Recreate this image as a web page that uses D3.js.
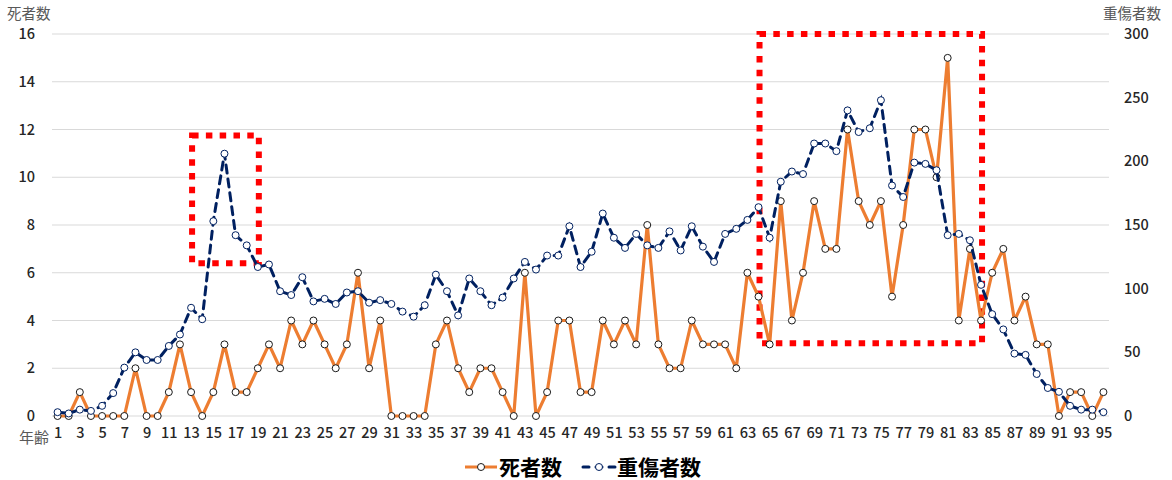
<!DOCTYPE html>
<html>
<head>
<meta charset="utf-8">
<script src="https://cdn.jsdelivr.net/npm/d3@7"></script>
<style>
  body { margin: 0; background: #fff; }
  svg text { font-family: "Noto Sans CJK JP", "Noto Sans", sans-serif; }
</style>
</head>
<body>
<div id="chart"></div>
<script>
'use strict';

// ages 1..95
var ages = d3.range(1, 96);

// 死者数 (left axis)
var deaths = [
  0, 0, 1, 0, 0, 0, 0, 2, 0, 0,
  1, 3, 1, 0, 1, 3, 1, 1, 2, 3,
  2, 4, 3, 4, 3, 2, 3, 6, 2, 4,
  0, 0, 0, 0, 3, 4, 2, 1, 2, 2,
  1, 0, 6, 0, 1, 4, 4, 1, 1, 4,
  3, 4, 3, 8, 3, 2, 2, 4, 3, 3,
  3, 2, 6, 5, 3, 9, 4, 6, 9, 7,
  7, 12, 9, 8, 9, 5, 8, 12, 12, 10,
  15, 4, 7, 4, 6, 7, 4, 5, 3, 3,
  0, 1, 1, 0, 1
];

// 重傷者数 (right axis)
var injuries = [
  3, 2, 5, 4, 8, 18, 38, 50, 44, 44,
  55, 64, 85, 76, 153, 206, 142, 134, 117, 119,
  98, 95, 109, 90, 92, 88, 97, 98, 89, 91,
  88, 82, 78, 87, 111, 98, 79, 108, 98, 87,
  93, 108, 121, 115, 126, 126, 149, 117, 129, 159,
  140, 132, 143, 134, 132, 145, 130, 149, 133, 121,
  143, 147, 154, 164, 140, 184, 192, 190, 214, 214,
  208, 240, 223, 226, 248, 181, 172, 199, 198, 193,
  142, 143, 138, 103, 80, 68, 49, 48, 33, 22,
  19, 8, 5, 5, 3
];

var leftTicks = [0, 2, 4, 6, 8, 10, 12, 14, 16];
var rightTicks = [0, 50, 100, 150, 200, 250, 300];
var xTickAges = ages.filter(function(a){ return a % 2 === 1; });

// highlighted regions: [age from, age to, deaths low, deaths high]
var boxStart = [13, 64];
var boxEnd = [19, 84];
var boxLow = [6.4, 3.05];
var boxHigh = [11.75, 16];

var seriesNames = ['死者数', '重傷者数'];

var chart = {};
chart.w = 1172;
chart.h = 480;
chart.left = 52;
chart.right = 1109;
chart.top = 34;
chart.bottom = 416;
chart.orange = '#ed7d31';
chart.navy = '#002060';
chart.tickColor = '#262626';

var svg = d3.select('#chart').append('svg')
    .attr('width', chart.w)
    .attr('height', chart.h);

var x = d3.scalePoint()
    .domain(ages)
    .range([chart.left, chart.right])
    .padding(0.5);

var yL = d3.scaleLinear().domain([0, 16]).range([chart.bottom, chart.top]);
var yR = d3.scaleLinear().domain([0, 300]).range([chart.bottom, chart.top]);

// gridlines
svg.append('g')
    .selectAll('line')
    .data(leftTicks)
    .enter()
    .append('line')
    .attr('x1', chart.left)
    .attr('x2', chart.right)
    .attr('y1', function(d){ return yL(d); })
    .attr('y2', function(d){ return yL(d); })
    .style('stroke', '#d9d9d9')
    .style('stroke-width', 1);

function styleTicks(g){
    g.select('.domain').remove();
    g.selectAll('text')
        .style('font-size', '14.5px')
        .style('font-weight', 500)
        .style('fill', chart.tickColor);
}

// left axis
svg.append('g')
    .attr('transform', 'translate(' + 35 + ',0)')
    .call(d3.axisLeft(yL).tickValues(leftTicks).tickSize(0).tickPadding(0))
    .call(styleTicks);

// right axis
svg.append('g')
    .attr('transform', 'translate(' + 1124 + ',0)')
    .call(d3.axisRight(yR).tickValues(rightTicks).tickSize(0).tickPadding(0))
    .call(styleTicks);

// bottom axis
svg.append('g')
    .attr('transform', 'translate(0,' + 428 + ')')
    .call(d3.axisBottom(x).tickValues(xTickAges).tickSize(0).tickPadding(0))
    .call(styleTicks);

// axis titles
svg.append('text')
    .attr('x', 7).attr('y', 19)
    .style('font-size', '14.5px').style('fill', '#595959')
    .text('死者数');
svg.append('text')
    .attr('x', 1103).attr('y', 19)
    .style('font-size', '14.5px').style('fill', '#595959')
    .text('重傷者数');
svg.append('text')
    .attr('x', 19).attr('y', 443)
    .style('font-size', '15px').style('fill', '#595959')
    .text('年齢');

// red dotted boxes
svg.append('g')
    .selectAll('rect')
    .data(boxStart)
    .enter()
    .append('rect')
    .attr('x', function(d){ return x(d) + 1; })
    .attr('y', function(d, i){ return yL(boxHigh[i]); })
    .attr('width', function(d, i){ return x(boxEnd[i]) - x(d); })
    .attr('height', function(d, i){ return yL(boxLow[i]) - yL(boxHigh[i]); })
    .style('fill', 'none')
    .style('stroke', '#ff0000')
    .style('stroke-width', 6)
    .style('stroke-dasharray', '6.5 7.3');

// lines
var deathLine = d3.line()
    .x(function(d, i){ return x(ages[i]); })
    .y(function(d){ return yL(d); });

var injuryLine = d3.line()
    .x(function(d, i){ return x(ages[i]); })
    .y(function(d){ return yR(d); });

svg.append('path')
    .attr('d', deathLine(deaths))
    .style('fill', 'none')
    .style('stroke', chart.orange)
    .style('stroke-width', 3.2)
    .style('stroke-linejoin', 'round');

svg.selectAll('circle.death')
    .data(deaths)
    .enter()
    .append('circle')
    .attr('class', 'death')
    .attr('cx', function(d, i){ return x(ages[i]); })
    .attr('cy', function(d){ return yL(d); })
    .attr('r', 3.5)
    .style('fill', '#fff')
    .style('stroke', '#1a1a1a')
    .style('stroke-width', 1);

svg.append('path')
    .attr('d', injuryLine(injuries))
    .style('fill', 'none')
    .style('stroke', chart.navy)
    .style('stroke-width', 3)
    .style('stroke-linecap', 'round')
    .style('stroke-dasharray', '8 6');

svg.selectAll('circle.injury')
    .data(injuries)
    .enter()
    .append('circle')
    .attr('class', 'injury')
    .attr('cx', function(d, i){ return x(ages[i]); })
    .attr('cy', function(d){ return yR(d); })
    .attr('r', 3.5)
    .style('fill', '#fff')
    .style('stroke', chart.navy)
    .style('stroke-width', 1);

// legend
var legend = svg.append('g');
var legendX = [465, 583];
var legendTextX = [499, 617];

seriesNames.forEach(function(name, i){
    legend.append('line')
        .attr('x1', legendX[i]).attr('x2', legendX[i] + 32)
        .attr('y1', 467).attr('y2', 467)
        .style('stroke', i === 0 ? chart.orange : chart.navy)
        .style('stroke-width', 3)
        .style('stroke-linecap', i === 0 ? 'butt' : 'round')
        .style('stroke-dasharray', i === 0 ? null : '6 7');
    legend.append('circle')
        .attr('cx', legendX[i] + 16).attr('cy', 467)
        .attr('r', 3.5)
        .style('fill', '#fff')
        .style('stroke', i === 0 ? '#1a1a1a' : chart.navy)
        .style('stroke-width', 1);
    legend.append('text')
        .attr('x', legendTextX[i]).attr('y', 475)
        .style('font-size', '21px')
        .style('font-weight', 'bold')
        .style('fill', '#000')
        .text(name);
});
</script>
</body>
</html>
